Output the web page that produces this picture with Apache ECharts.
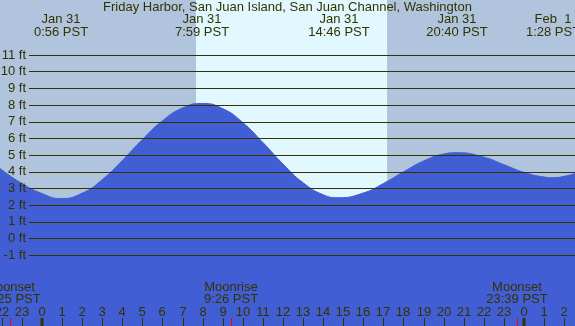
<!DOCTYPE html>
<html><head><meta charset="utf-8">
<script src="https://cdn.jsdelivr.net/npm/echarts@6/dist/echarts.min.js"></script>
<style>html,body{margin:0;padding:0;background:#b0c4de}#c{width:575px;height:326px}</style>
</head><body><div id="c"></div>
<script>
// ---- data (hours since Jan 31 00:00 PST) ----
const chartTitle = 'Friday Harbor, San Juan Island, San Juan Channel, Washington';
const tideHours = [-2.09, -1, 0, 0.93, 2, 3, 4, 5, 6, 7, 7.98, 9, 10, 11, 12, 13, 14, 14.77, 16, 17, 18, 19, 20, 20.67, 22, 23, 24, 25, 25.47, 26, 26.54];
const tideFeet  = [4.2, 3.3, 2.7, 2.4, 2.72, 3.53, 4.68, 5.94, 7.06, 7.83, 8.1, 7.79, 6.95, 5.76, 4.47, 3.35, 2.63, 2.45, 2.73, 3.3, 4.0, 4.65, 5.07, 5.15, 4.88, 4.43, 3.97, 3.69, 3.65, 3.73, 3.9];
const extremeHours = [0.933, 7.983, 14.767, 20.667, 25.467];
const extremeDates = ['Jan 31', 'Jan 31', 'Jan 31', 'Jan 31', 'Feb  1'];
const extremeTimes = ['0:56 PST', '7:59 PST', '14:46 PST', '20:40 PST', '1:28 PST'];
const gridFeet = [-1, 0, 1, 2, 3, 4, 5, 6, 7, 8, 9, 10, 11];
const hourTicks = [-2, -1, 0, 1, 2, 3, 4, 5, 6, 7, 8, 9, 10, 11, 12, 13, 14, 15, 16, 17, 18, 19, 20, 21, 22, 23, 24, 25, 26];
const midnightHours = [0, 24];
const daylight = [7.667, 17.183];
const moonHours = [-1.583, 9.433, 23.65];
const moonEvents = ['Moonset', 'Moonrise', 'Moonset'];
const moonTimes = ['22:25 PST', '9:26 PST', '23:39 PST'];
const xRange = [-2.09, 26.54];
const yRange = [-5.24, 14.3];

// ---- styles ----
const FAMILY = "'Liberation Sans', Arial, sans-serif";
const FONT = "13px " + FAMILY;
const TXT = '#333300';
const NIGHT = '#b0c4de', DAY = '#e0f8fe', WATER = '#415ed5';

const chart = echarts.init(document.getElementById('c'), null, {renderer: 'canvas'});
chart.setOption({
  backgroundColor: NIGHT,
  animation: false,
  title: {text: chartTitle, left: 'center', top: 1, padding: 0,
    textStyle: {fontSize: 13, fontWeight: 'normal', color: TXT, fontFamily: FAMILY}},
  grid: {left: 0, right: 0, top: 0, bottom: 0, containLabel: false},
  xAxis: {type: 'value', min: xRange[0], max: xRange[1], show: false},
  yAxis: {type: 'value', min: yRange[0], max: yRange[1], show: false},
  series: [
    {
      type: 'line', z: 2,
      data: tideHours.map((h, i) => [h, tideFeet[i]]),
      smooth: 0.5, symbol: 'none',
      lineStyle: {width: 1, color: WATER},
      areaStyle: {color: WATER, opacity: 1, origin: 'start'},
      markArea: {silent: true, itemStyle: {color: DAY, opacity: 1},
        data: [[{xAxis: daylight[0]}, {xAxis: daylight[1]}]]},
      markLine: {silent: true, symbol: ['none', 'none'], animation: false,
        lineStyle: {color: TXT, width: 1, type: 'solid'},
        label: {show: true, position: 'start', distance: 3, formatter: '{b}', color: TXT,
          fontFamily: FAMILY, fontSize: 13},
        emphasis: {disabled: true},
        data: gridFeet.map(v => [{name: v + ' ft', x: 29, xAxis: 0, yAxis: v}, {x: 575, xAxis: 0, yAxis: v}])}
    },
    {
      type: 'custom', z: 10, silent: true,
      data: extremeHours.map((h, i) => [h, i]),
      renderItem: (p, api) => {
        const x = Math.round(api.coord([api.value(0), 0])[0]);
        const i = p.dataIndex;
        return {type: 'group', children: [
          {type: 'text', x, y: 19.5, style: {text: extremeDates[i], font: FONT, fill: TXT, align: 'center', verticalAlign: 'middle'}},
          {type: 'text', x, y: 32, style: {text: extremeTimes[i], font: FONT, fill: TXT, align: 'center', verticalAlign: 'middle'}}
        ]};
      }
    },
    {
      type: 'custom', z: 10, silent: true,
      data: hourTicks.map(h => [h, 0]),
      renderItem: (p, api) => {
        const h = api.value(0);
        const x = Math.round(api.coord([h, 0])[0]);
        const ch = [{type: 'text', x, y: 312, style: {text: String(((h % 24) + 24) % 24), font: FONT, fill: TXT, align: 'center', verticalAlign: 'middle'}}];
        if (midnightHours.indexOf(h) < 0) {
          ch.push({type: 'line', shape: {x1: x + 0.5, y1: 318, x2: x + 0.5, y2: 326}, style: {stroke: TXT, lineWidth: 1}});
        }
        return {type: 'group', children: ch};
      }
    },
    {
      type: 'custom', z: 11, silent: true,
      data: midnightHours.map(h => [h, 0]),
      renderItem: (p, api) => {
        const x = Math.round(api.coord([api.value(0), 0])[0]);
        return {type: 'rect', shape: {x: x - 1.5, y: 318, width: 3, height: 8}, style: {fill: TXT}};
      }
    },
    {
      type: 'custom', z: 11, silent: true,
      data: moonHours.map((h, i) => [h, i]),
      renderItem: (p, api) => {
        const x = Math.round(api.coord([api.value(0), 0])[0]);
        const i = p.dataIndex;
        return {type: 'group', children: [
          {type: 'text', x, y: 287, style: {text: moonEvents[i], font: FONT, fill: TXT, align: 'center', verticalAlign: 'middle'}},
          {type: 'text', x, y: 299.5, style: {text: moonTimes[i], font: FONT, fill: TXT, align: 'center', verticalAlign: 'middle'}},
          {type: 'line', shape: {x1: x + 0.5, y1: 318, x2: x + 0.5, y2: 326}, style: {stroke: '#ff0000', lineWidth: 1}}
        ]};
      }
    }
  ]
});
</script></body></html>
